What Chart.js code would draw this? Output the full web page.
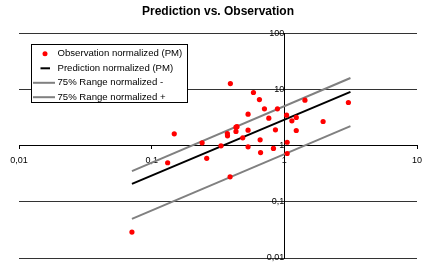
<!DOCTYPE html>
<html lang="en">
<head>
  <meta charset="UTF-8">
  <title>Prediction vs. Observation</title>
  <script src="https://cdn.jsdelivr.net/npm/chart.js"></script>
  <style>
    html, body { margin: 0; padding: 0; background: #fff; }
    .chart-box { width: 423px; height: 264px; }
  </style>
</head>
<body>
<div class="chart-box">
  <canvas id="pvoChart"></canvas>
</div>

<script>
  // observed points (normalized PM)
  const obsX = [0.071, 0.132, 0.148, 0.24, 0.26, 0.333, 0.372, 0.373, 0.392, 0.39, 0.432, 0.44, 0.432,
                0.486, 0.533, 0.533, 0.533, 0.585, 0.649, 0.657, 0.662, 0.708, 0.764, 0.828, 0.857,
                0.887, 1.04, 1.05, 1.05, 1.14, 1.23, 1.23, 1.43, 1.96, 3.04];
  const obsY = [0.029, 0.50, 1.64, 1.13, 0.60, 1.0, 1.66, 1.51, 12.9, 0.28, 2.15, 2.2, 1.81,
                1.39, 3.67, 1.9, 0.96, 8.95, 6.7, 1.28, 0.76, 4.57, 3.12, 0.90, 1.93,
                4.57, 3.53, 1.16, 0.73, 2.79, 3.21, 1.88, 6.53, 2.72, 5.93];

  // prediction and 75% range lines
  const lineX = [0.071, 3.15];
  const predY = [0.21, 9.2];
  const lowY = [0.05, 2.25];
  const highY = [0.355, 16.2];

  const xTicks = [0.01, 0.1, 1, 10];
  const xTickLabels = ['0,01', '0,1', '1', '10'];
  const yTicks = [0.01, 0.1, 1, 10, 100];
  const yTickLabels = ['0,01', '0,1', '1', '10', '100'];

  const pts = (xs, ys) => xs.map((x, i) => ({x: x, y: ys[i]}));

  // legend drawn as a boxed panel inside the plot
  const boxLegend = {
    id: 'boxLegend',
    afterDraw(chart) {
      const ctx = chart.ctx;
      const left = 31.5, top = 44.5, w = 156, h = 58;
      const rows = [53.7, 68.3, 82.8, 97.2];
      ctx.save();
      ctx.fillStyle = '#fff';
      ctx.fillRect(left, top, w, h);
      ctx.strokeStyle = '#000';
      ctx.lineWidth = 1;
      ctx.strokeRect(left, top, w, h);
      ctx.font = '9.6px "Liberation Sans", Arial, sans-serif';
      ctx.textBaseline = 'middle';
      chart.data.datasets.forEach((ds, i) => {
        const y = rows[i];
        if (ds.showLine) {
          ctx.strokeStyle = ds.borderColor;
          ctx.lineWidth = 2;
          ctx.beginPath();
          if (i === 1) { ctx.moveTo(40.5, y); ctx.lineTo(50, y); }
          else { ctx.moveTo(33, y); ctx.lineTo(55, y); }
          ctx.stroke();
        } else {
          ctx.fillStyle = ds.backgroundColor;
          ctx.beginPath();
          ctx.arc(45, y, 2.5, 0, Math.PI * 2);
          ctx.fill();
        }
        ctx.fillStyle = '#000';
        ctx.fillText(ds.label, 57.5, y);
      });
      ctx.restore();
    }
  };

  new Chart(document.getElementById('pvoChart'), {
    type: 'scatter',
    data: {
      datasets: [{
        label: 'Observation normalized (PM)',
        data: pts(obsX, obsY),
        backgroundColor: '#ff0000',
        borderColor: '#ff0000',
        pointRadius: 2.6,
        borderWidth: 0
      }, {
        label: 'Prediction normalized (PM)',
        data: pts(lineX, predY),
        showLine: true,
        borderColor: '#000',
        borderWidth: 2,
        pointRadius: 0
      }, {
        label: '75% Range normalized -',
        data: pts(lineX, lowY),
        showLine: true,
        borderColor: '#808080',
        borderWidth: 2,
        pointRadius: 0
      }, {
        label: '75% Range normalized +',
        data: pts(lineX, highY),
        showLine: true,
        borderColor: '#808080',
        borderWidth: 2,
        pointRadius: 0
      }]
    },
    options: {
      responsive: true,
      maintainAspectRatio: false,
      animation: false,
      layout: { padding: { left: 19, right: 6, top: 0, bottom: 6 } },
      plugins: {
        legend: { display: false },
        tooltip: { enabled: false },
        title: {
          display: true,
          text: 'Prediction vs. Observation',
          color: '#000',
          font: { family: '"Liberation Sans", Arial, sans-serif', size: 12, weight: 'bold' },
          padding: { top: 4, bottom: 15.3 }
        }
      },
      scales: {
        x: {
          type: 'logarithmic',
          position: { y: 1 },
          min: 0.01,
          max: 10,
          afterBuildTicks: s => { s.ticks = xTicks.map(v => ({value: v})); },
          afterFit: s => { s.paddingLeft = 0; s.paddingRight = 0; },
          ticks: {
            callback: (v, i) => xTickLabels[i],
            color: '#000',
            padding: 6,
            maxRotation: 0,
            autoSkip: false,
            major: { enabled: false },
            font: { family: '"Liberation Sans", Arial, sans-serif', size: 9 }
          },
          grid: { drawOnChartArea: false, drawTicks: true, tickLength: 3, color: '#000' },
          border: { color: '#000', width: 1 }
        },
        y: {
          type: 'logarithmic',
          position: { x: 1 },
          min: 0.01,
          max: 100,
          afterBuildTicks: s => { s.ticks = yTicks.map(v => ({value: v})); },
          afterFit: s => { s.paddingTop = 0; s.paddingBottom = 0; },
          ticks: {
            callback: (v, i) => yTickLabels[i],
            color: '#000',
            autoSkip: false,
            major: { enabled: false },
            font: { family: '"Liberation Sans", Arial, sans-serif', size: 9 }
          },
          grid: { drawTicks: false, color: '#333' },
          border: { color: '#000', width: 1 }
        }
      }
    },
    plugins: [boxLegend]
  });
</script>
</body>
</html>
